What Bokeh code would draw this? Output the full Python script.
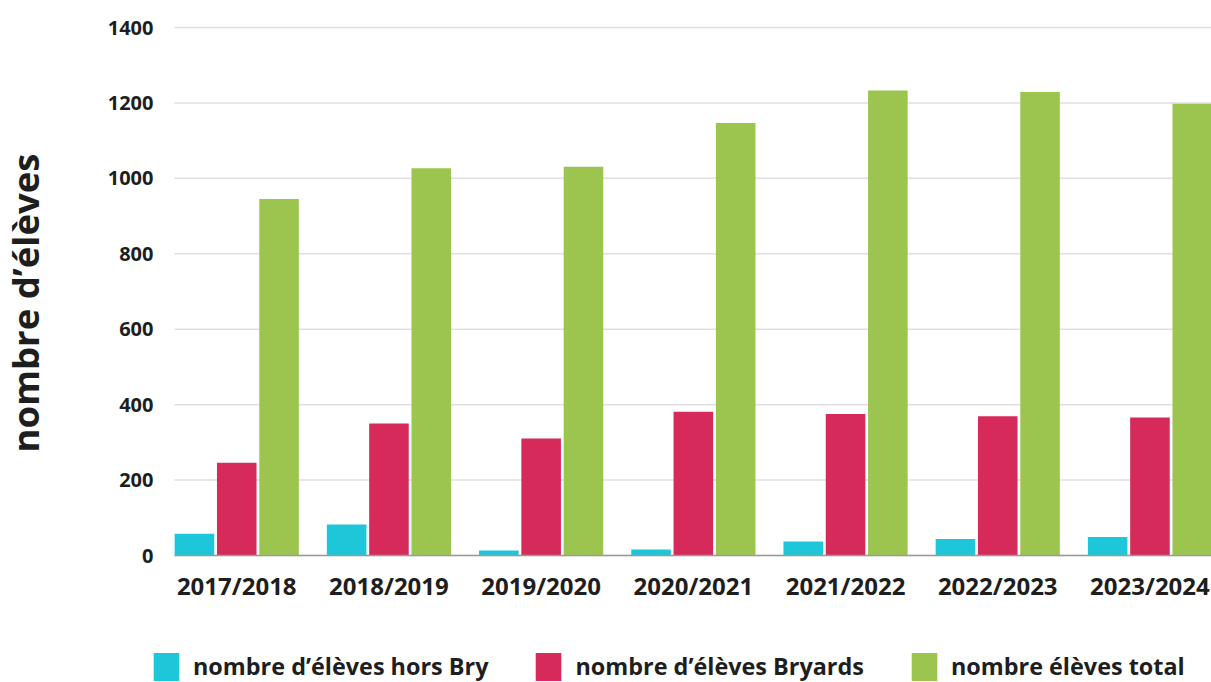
from bokeh.plotting import figure
from bokeh.models import ColumnDataSource, Range1d, FixedTicker, Legend, LegendItem
from bokeh.transform import dodge
from bokeh.embed import file_html
from bokeh.resources import INLINE

years = ["2017/2018", "2018/2019", "2019/2020", "2020/2021", "2021/2022", "2022/2023", "2023/2024"]
hors_bry = [58, 82, 13, 16, 37, 44, 49]
bryards = [246, 350, 310, 381, 375, 369, 366]
total = [945, 1027, 1031, 1147, 1233, 1229, 1198]
series_names = ["nombre d\u2019\u00e9l\u00e8ves hors Bry", "nombre d\u2019\u00e9l\u00e8ves Bryards", "nombre \u00e9l\u00e8ves total"]
colors = ["#1ec6da", "#d62a5b", "#9cc54f"]
y_ticks = [0, 200, 400, 600, 800, 1000, 1200, 1400]

W, H = 1211, 682
# plot-area geometry (pixels) used to build the ranges
AREA_LEFT, AREA_RIGHT, Y0_PX, Y1400_PX = 174, 1211, 555, 27
PX_PER_CAT = 152.2
X_LEFT = -0.409
X_RIGHT = X_LEFT + (AREA_RIGHT - AREA_LEFT) / PX_PER_CAT
K = (Y0_PX - Y1400_PX) / 1400.0

x_start = X_LEFT - AREA_LEFT / PX_PER_CAT
x_end = X_RIGHT + (W - AREA_RIGHT) / PX_PER_CAT
y_end = Y0_PX / K
y_start = -(H - Y0_PX) / K

src = ColumnDataSource(data=dict(x=list(range(len(years))), hors=hors_bry, bry=bryards, tot=total))

FONT = "Open Sans"
TXT = "#1e1e1e"

p = figure(width=W, height=H, output_backend="svg", toolbar_location=None,
           x_range=Range1d(x_start, x_end), y_range=Range1d(y_start, y_end),
           min_border_left=0, min_border_right=0, min_border_top=0, min_border_bottom=0)
p.outline_line_color = None
p.background_fill_color = "white"
p.border_fill_color = "white"
p.xgrid.grid_line_color = None
p.ygrid.grid_line_color = None

# horizontal gridlines limited to the plot area
p.segment(x0=[X_LEFT] * len(y_ticks), x1=[X_RIGHT] * len(y_ticks), y0=y_ticks, y1=y_ticks,
          line_color="#dfdfdf", line_width=1.5, level="underlay")

w = 0.26
off = 0.278
r1 = p.vbar(x=dodge("x", -off, range=p.x_range), top="hors", width=w, source=src, color=colors[0], line_color=None)
r2 = p.vbar(x=dodge("x", 0.0, range=p.x_range), top="bry", width=w, source=src, color=colors[1], line_color=None)
r3 = p.vbar(x=dodge("x", off, range=p.x_range), top="tot", width=w, source=src, color=colors[2], line_color=None)

# axes (drawn at fixed locations inside the canvas)
p.xaxis.fixed_location = 0
p.xaxis.bounds = (X_LEFT, X_RIGHT)
p.xaxis.ticker = FixedTicker(ticks=list(range(len(years))))
p.xaxis.major_label_overrides = {i: y for i, y in enumerate(years)}
p.xaxis.major_tick_line_color = None
p.xaxis.minor_tick_line_color = None
p.xaxis.axis_line_color = "#9a9a9a"
p.xaxis.axis_line_width = 1.5
p.xaxis.major_label_text_font = FONT
p.xaxis.major_label_text_font_style = "bold"
p.xaxis.major_label_text_font_size = "24px"
p.xaxis.major_label_text_color = TXT
p.xaxis.major_label_standoff = 7

p.yaxis.fixed_location = X_LEFT
p.yaxis.bounds = (-60, 1400)
p.yaxis.ticker = FixedTicker(ticks=y_ticks)
p.yaxis.major_tick_line_color = None
p.yaxis.minor_tick_line_color = None
p.yaxis.axis_line_color = None
p.yaxis.major_label_text_font = FONT
p.yaxis.major_label_text_font_style = "bold"
p.yaxis.major_label_text_font_size = "20px"
p.yaxis.major_label_text_color = TXT
p.yaxis.major_label_standoff = 15
p.yaxis.axis_label = "nombre d\u2019\u00e9l\u00e8ves"
p.yaxis.axis_label_text_font = FONT
p.yaxis.axis_label_text_font_style = "bold"
p.yaxis.axis_label_text_font_size = "36.5px"
p.yaxis.axis_label_text_color = TXT
p.yaxis.axis_label_standoff = 55

legend = Legend(items=[LegendItem(label=series_names[0], renderers=[r1]),
                       LegendItem(label=series_names[1], renderers=[r2]),
                       LegendItem(label=series_names[2], renderers=[r3])],
                orientation="horizontal", location=(150, -1.5))
legend.padding = 0
legend.margin = 0
legend.spacing = 44
legend.glyph_width = 32
legend.glyph_height = 35
legend.label_standoff = 11
legend.label_text_font = FONT
legend.label_text_font_style = "bold"
legend.label_text_font_size = "23.4px"
legend.label_text_color = TXT
legend.border_line_color = None
legend.background_fill_alpha = 0
p.add_layout(legend)

open("out.html", "w").write(file_html(p, INLINE))
